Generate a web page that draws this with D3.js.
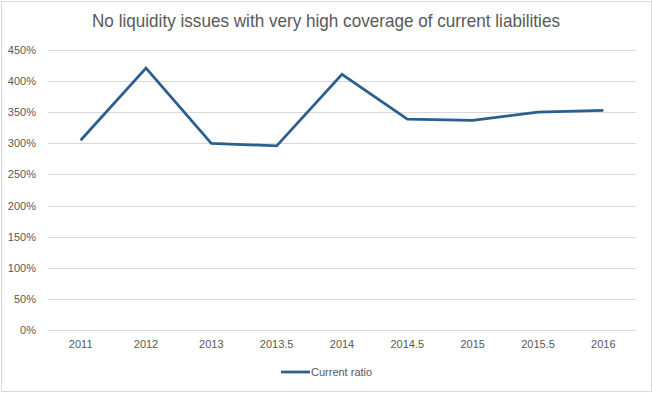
<!DOCTYPE html>
<html>
<head>
<meta charset="utf-8">
<script src="https://cdn.jsdelivr.net/npm/d3@7"></script>
<style>
  body { margin: 0; background: #fff; }
  svg { display: block; font-family: "Liberation Sans", "DejaVu Sans", sans-serif; }
</style>
</head>
<body>
<svg></svg>
<script>
// Chart data
const categories = ["2011", "2012", "2013", "2013.5", "2014", "2014.5", "2015", "2015.5", "2016"];
const currentRatio = [3.05, 4.21, 3.00, 2.96, 4.11, 3.39, 3.37, 3.50, 3.53];
const yTicks = [0, 0.5, 1, 1.5, 2, 2.5, 3, 3.5, 4, 4.5];

const width = 653, height = 393;
const margin = { top: 50, right: 17, bottom: 63, left: 48 };

const svg = d3.select("svg")
  .attr("width", width)
  .attr("height", height);

// chart border
svg.append("rect")
  .attr("x", 1.5).attr("y", 1.5)
  .attr("width", width - 3).attr("height", height - 3)
  .attr("fill", "#fff")
  .attr("stroke", "#d9d9d9");

const x = d3.scaleBand()
  .domain(categories)
  .range([margin.left, width - margin.right]);

const y = d3.scaleLinear()
  .domain([0, 4.5])
  .range([height - margin.bottom, margin.top]);

// title
svg.append("text")
  .attr("x", 326).attr("y", 27)
  .attr("text-anchor", "middle")
  .attr("fill", "#595959")
  .attr("font-size", 19)
  .attr("textLength", 468)
  .attr("lengthAdjust", "spacingAndGlyphs")
  .text("No liquidity issues with very high coverage of current liabilities");

// gridlines
svg.append("g")
  .selectAll("line")
  .data(yTicks)
  .enter()
  .append("line")
  .attr("x1", margin.left)
  .attr("x2", width - margin.right)
  .attr("y1", d => Math.round(y(d)) + 0.5)
  .attr("y2", d => Math.round(y(d)) + 0.5)
  .attr("stroke", "#d9d9d9")
  .attr("stroke-width", 1);

// y axis labels
const yAxis = svg.append("g")
  .attr("transform", `translate(${margin.left - 12},0)`)
  .call(d3.axisLeft(y).tickValues(yTicks).tickFormat(d3.format(".0%")).tickSize(0).tickPadding(0));
yAxis.select(".domain").remove();
yAxis.selectAll("text")
  .attr("fill", "#595959")
  .attr("font-size", 11)
  .attr("font-family", "Liberation Sans, sans-serif");

// x axis labels
const xAxis = svg.append("g")
  .attr("transform", `translate(0,${height - margin.bottom + 10})`)
  .call(d3.axisBottom(x).tickSize(0).tickPadding(0));
xAxis.select(".domain").remove();
xAxis.selectAll("text")
  .attr("fill", "#595959")
  .attr("font-size", 11)
  .attr("font-family", "Liberation Sans, sans-serif");

// line
const line = d3.line()
  .x((d, i) => x(categories[i]) + x.bandwidth() / 2)
  .y(d => y(d));

svg.append("path")
  .datum(currentRatio)
  .attr("fill", "none")
  .attr("stroke", "#2a5f8f")
  .attr("stroke-width", 2.75)
  .attr("stroke-linejoin", "miter")
  .attr("d", line);

// legend
const legend = svg.append("g").attr("transform", "translate(281,372)");
legend.append("line")
  .attr("x1", 0).attr("x2", 29)
  .attr("stroke", "#2a5f8f")
  .attr("stroke-width", 2.75);
legend.append("text")
  .attr("x", 30).attr("y", 4)
  .attr("fill", "#595959")
  .attr("font-size", 11)
  .text("Current ratio");
</script>
</body>
</html>
